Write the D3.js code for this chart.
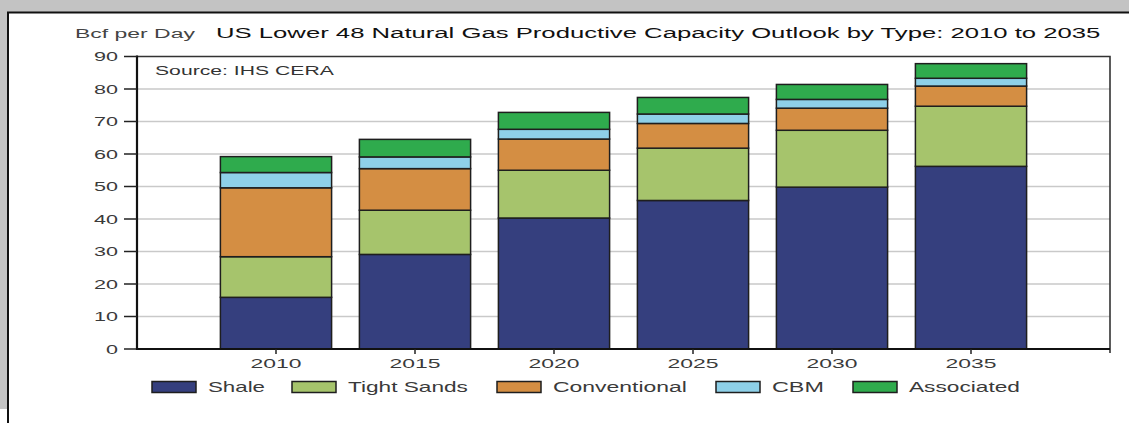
<!DOCTYPE html>
<html><head><meta charset="utf-8">
<script src="https://cdn.jsdelivr.net/npm/d3@7"></script>
<style>
html,body{margin:0;padding:0;background:#fff;}
svg{display:block;font-family:"Liberation Sans",Arial,sans-serif;}
</style></head>
<body><svg id="c" width="1129" height="423"></svg>
<script>
const categories = ["2010","2015","2020","2025","2030","2035"];
const seriesNames = ["Shale","Tight Sands","Conventional","CBM","Associated"];
const shale = [15.9, 29.1, 40.3, 45.7, 49.8, 56.2];
const tightSands = [12.5, 13.6, 14.7, 16.1, 17.5, 18.5];
const conventional = [21.2, 12.8, 9.6, 7.6, 6.8, 6.2];
const cbm = [4.7, 3.6, 3.0, 2.9, 2.7, 2.4];
const associated = [4.9, 5.4, 5.2, 5.1, 4.6, 4.5];
const yTicks = [0,10,20,30,40,50,60,70,80,90];
const colors = ["#353f7e","#a6c46c","#d48e43","#8ed0e8","#2fab4d"];

const svg = d3.select("#c");
// frame (scanned page look)
svg.append("rect").attr("x",0).attr("y",0).attr("width",1129).attr("height",12).attr("fill","#c3c3c3");
svg.append("rect").attr("x",0).attr("y",0).attr("width",7).attr("height",409).attr("fill","#c3c3c3");
svg.append("line").attr("x1",7).attr("x2",1129).attr("y1",12.5).attr("y2",12.5).attr("stroke","#111").attr("stroke-width",2);
svg.append("line").attr("x1",8).attr("x2",8).attr("y1",12).attr("y2",423).attr("stroke","#111").attr("stroke-width",2);

const L = 137, R = 1110, T = 56.5, B = 349;
const y = d3.scaleLinear().domain([0,90]).range([B,T]);
const x = d3.scaleBand().domain(categories).range([206.5,1040.5]).paddingInner(0.2).paddingOuter(0.1);

// text stretched horizontally to the measured width (the reference is a widened scan)
function txt(g, s, xx, yy, w, size, fill, anchor){
  const t = g.append("text").attr("x",0).attr("y",0).attr("font-size",size).attr("fill",fill)
    .attr("text-anchor",anchor||"start").text(s);
  const nat = t.node().getComputedTextLength() || w;
  const sx = w / nat;
  t.attr("transform",`translate(${xx},${yy}) scale(${sx},1)`);
  return t;
}

// gridlines
svg.append("g").selectAll("line").data(yTicks.filter(d=>d>0 && d<90)).join("line")
  .attr("x1",L).attr("x2",R).attr("y1",d=>y(d)).attr("y2",d=>y(d))
  .attr("stroke","#c9c9c9").attr("stroke-width",1.3);

// plot border top/right
svg.append("path").attr("d",`M${L},${T}H${R}V${B+4}`).attr("fill","none").attr("stroke","#333").attr("stroke-width",1.6);

// stacked bars
const table = categories.map((c,i)=>({cat:c,"Shale":shale[i],"Tight Sands":tightSands[i],"Conventional":conventional[i],"CBM":cbm[i],"Associated":associated[i]}));
const stacked = d3.stack().keys(seriesNames)(table);
svg.append("g").selectAll("g").data(stacked).join("g")
  .attr("fill",(d,i)=>colors[i])
  .selectAll("rect").data(d=>d).join("rect")
  .attr("x",d=>x(d.data.cat)).attr("width",x.bandwidth())
  .attr("y",d=>y(d[1])).attr("height",d=>y(d[0])-y(d[1]))
  .attr("stroke","#1e1e1e").attr("stroke-width",1.5);

// y axis
const ya = svg.append("g");
ya.append("line").attr("x1",L).attr("x2",L).attr("y1",T-1).attr("y2",B+1).attr("stroke","#111").attr("stroke-width",2.2);
yTicks.forEach(v=>{
  ya.append("line").attr("x1",L-13).attr("x2",L).attr("y1",y(v)).attr("y2",y(v)).attr("stroke","#222").attr("stroke-width",1.5);
  txt(ya, String(v), 118, y(v)+4.5, 12*String(v).length, 12.5, "#3a3a3a", "end");
});

// x axis
const xa = svg.append("g");
xa.append("line").attr("x1",L-1).attr("x2",R).attr("y1",B).attr("y2",B).attr("stroke","#111").attr("stroke-width",2.2);
categories.forEach(c=>{
  const cx = x(c)+x.bandwidth()/2;
  xa.append("line").attr("x1",cx).attr("x2",cx).attr("y1",B).attr("y2",B+5).attr("stroke","#222").attr("stroke-width",1.5);
  txt(xa, c, cx, 368, 51, 12.5, "#3a3a3a", "middle");
});

// titles
txt(svg, "Bcf per Day", 75, 38, 120, 13.5, "#444");
txt(svg, "US Lower 48 Natural Gas Productive Capacity Outlook by Type: 2010 to 2035", 216, 38, 885, 15.5, "#111");
txt(svg, "Source: IHS CERA", 155, 75, 179, 12, "#333");

// legend
const legendX = [152, 292, 497, 716, 853];
const legendW = [57, 120, 134, 52, 111];
const lg = svg.append("g");
seriesNames.forEach((s,i)=>{
  lg.append("rect").attr("x",legendX[i]).attr("y",381.5).attr("width",44).attr("height",11)
    .attr("fill",colors[i]).attr("stroke","#1e1e1e").attr("stroke-width",1.5);
  txt(lg, s, legendX[i]+56, 392, legendW[i], 15, "#3a3a3a");
});
</script></body></html>
